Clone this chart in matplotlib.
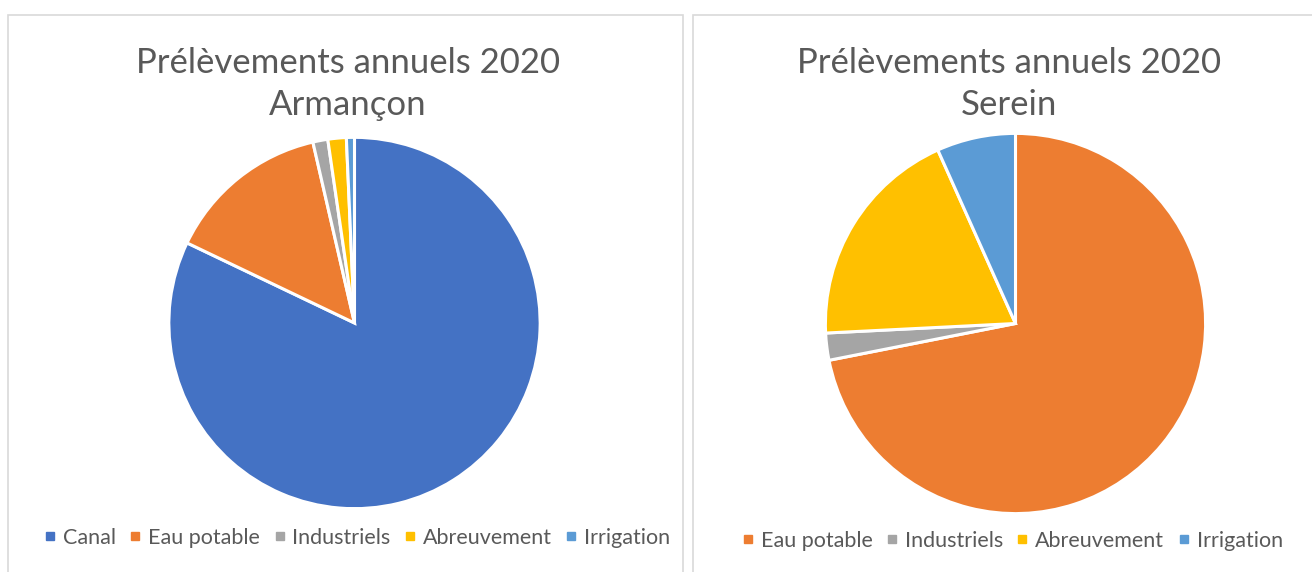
import matplotlib.pyplot as plt
from matplotlib.patches import Rectangle
from matplotlib.lines import Line2D

plt.rcParams['font.family'] = ['Lato', 'DejaVu Sans']

# data (percent of annual withdrawals)
armancon_labels = ['Canal', 'Eau potable', 'Industriels', 'Abreuvement', 'Irrigation']
armancon_values = [82.1, 14.3, 1.3, 1.6, 0.7]
serein_labels = ['Eau potable', 'Industriels', 'Abreuvement', 'Irrigation']
serein_values = [71.9, 2.3, 19.1, 6.7]

colors = {'Canal': '#4472C4', 'Eau potable': '#ED7D31', 'Industriels': '#A5A5A5',
          'Abreuvement': '#FFC000', 'Irrigation': '#5B9BD5'}
text_col = '#595959'

W, H = 1312, 572
fig = plt.figure(figsize=(W / 100, H / 100), dpi=100)


def px_axes(cx, cy, r):
    # cx, cy in pixels from top-left
    return fig.add_axes([(cx - r) / W, (H - cy - r) / H, 2 * r / W, 2 * r / H])


# panel frames
for x0, x1 in [(8, 683), (693, 1320)]:
    fig.patches.append(Rectangle((x0 / W, -0.05), (x1 - x0) / W, (H - 15) / H + 0.05,
                                 transform=fig.transFigure, fill=False,
                                 edgecolor='#D9D9D9', linewidth=1.2))


def draw(cx, cy, r, labels, values, title, title_x, leg_x, leg_y):
    ax = px_axes(cx, cy, r)
    ax.pie(values, colors=[colors[l] for l in labels], startangle=90, counterclock=False,
           wedgeprops=dict(edgecolor='white', linewidth=2.2))
    ax.set_xlim(-1.01, 1.01)
    ax.set_ylim(-1.01, 1.01)
    ax.set_aspect('equal')
    ax.axis('off')
    fig.text(title_x / W, 1 - 115 / H, title, ha='center', va='baseline',
             fontsize=25, color=text_col, linespacing=1.4)
    handles = [Line2D([], [], marker='s', linestyle='none', markersize=6,
                      markerfacecolor=colors[l], markeredgecolor=colors[l]) for l in labels]
    fig.legend(handles, labels, loc='center', bbox_to_anchor=(leg_x / W, 1 - leg_y / H),
               ncol=len(labels), frameon=False, fontsize=15.5, labelcolor=text_col,
               handlelength=0.6, handletextpad=0.3, columnspacing=0.6)


draw(354.5, 323, 187.5, armancon_labels, armancon_values,
     'Prélèvements annuels 2020\nArmançon', 348, 357, 538)
draw(1015.5, 323.5, 192, serein_labels, serein_values,
     'Prélèvements annuels 2020\nSerein', 1009, 1012, 541)

fig.savefig('out.png', dpi=100, facecolor='white')
